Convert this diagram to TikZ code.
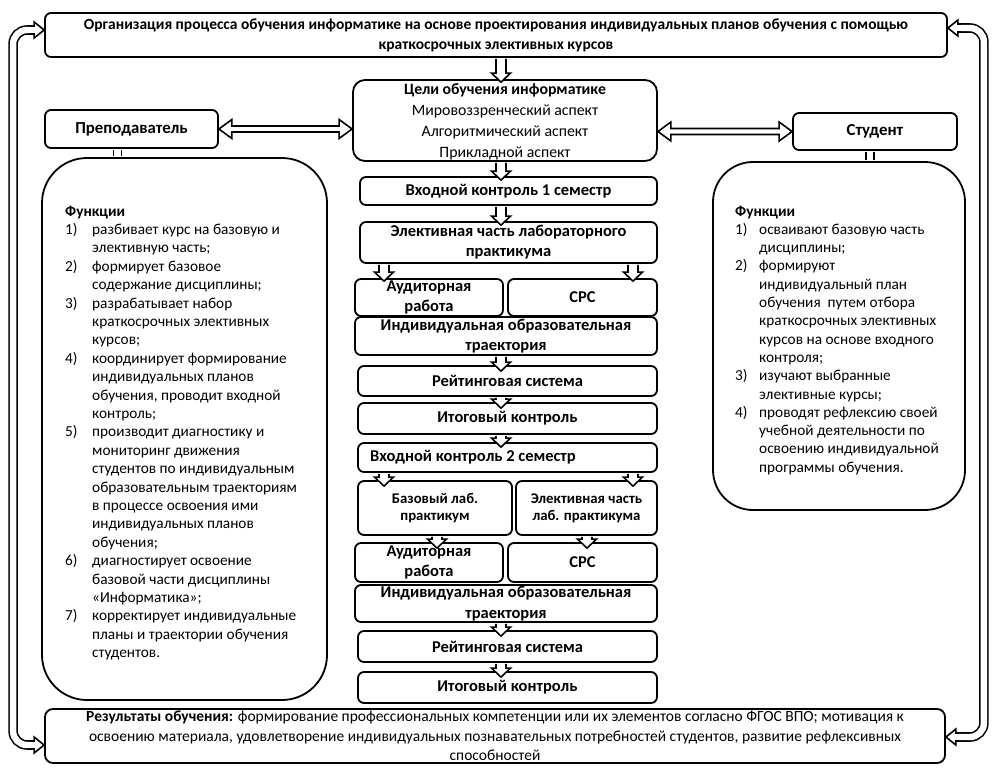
\documentclass[tikz,border=0pt]{standalone}
\usepackage{fontspec}
\setmainfont{Carlito}
\usetikzlibrary{calc}
\newcommand{\myfs}[2]{\fontsize{#1}{#2}\selectfont}
\newcommand{\myitem}[1]{\makebox[27pt][l]{#1}}
\newcommand{\myind}{\hspace*{27pt}}
\newcommand{\ritem}[1]{\makebox[24pt][l]{#1}}
\newcommand{\rind}{\hspace*{24pt}}
\newcommand{\aw}{5pt}
\newcommand{\ah}{10pt}
\newcommand{\al}{11pt}
\begin{document}
\begin{tikzpicture}[x=1pt,y=-1pt,
  box/.style={draw, line width=1.8pt, fill=white, rounded corners=6pt, inner sep=0pt, align=center},
  cbox/.style={box, font=\bfseries\myfs{16.5}{20}},
  dbl/.style={draw, line width=1.6pt, double=white, double distance=6.4pt},
  arrowbase/.style={draw, line width=1.6pt, fill=white, line join=miter},
  harrow/.style={arrowbase, /utils/exec={\def\aw{5pt}\def\ah{9.5pt}\def\al{9pt}},
    to path={let \p1=(\tikztostart), \p2=(\tikztotarget), \p3=($(\p2)!\al!(\p1)$) in
      ($(\p1)!\aw!90:(\p2)$) -- ($(\p3)!\aw!90:(\p2)$) -- ($(\p3)!\ah!90:(\p2)$) -- (\p2)
      -- ($(\p3)!\ah!-90:(\p2)$) -- ($(\p3)!\aw!-90:(\p2)$) -- ($(\p1)!\aw!-90:(\p2)$)}},
  harrowsm/.style={harrow, /utils/exec={\def\aw{4pt}\def\ah{8pt}\def\al{10pt}}},
  harrowtwo/.style={arrowbase, /utils/exec={\def\aw{3pt}\def\ah{9.5pt}\def\al{13pt}},
    to path={let \p1=(\tikztostart), \p2=(\tikztotarget), \p3=($(\p1)!\al!(\p2)$), \p4=($(\p2)!\al!(\p1)$) in
      (\p1) -- ($(\p3)!\ah!90:(\p2)$) -- ($(\p3)!\aw!90:(\p2)$) -- ($(\p4)!\aw!90:(\p2)$) -- ($(\p4)!\ah!90:(\p2)$)
      -- (\p2) -- ($(\p4)!\ah!-90:(\p2)$) -- ($(\p4)!\aw!-90:(\p2)$) -- ($(\p3)!\aw!-90:(\p2)$) -- ($(\p3)!\ah!-90:(\p2)$) -- cycle}}
]
\useasboundingbox[fill=white] (0,0) rectangle (1002,772);

\coordinate (cx) at (501,0);
\coordinate (cl) at (384,0);
\coordinate (cr) at (633,0);
\coordinate (cbl) at (437,0);
\coordinate (cer) at (587,0);

% top and bottom
\node[box, minimum width=902pt, minimum height=44pt, font=\bfseries\myfs{15.5}{20}] (top) at (496,35)
  {Организация процесса обучения информатике на основе проектирования индивидуальных планов обучения с помощью\\краткосрочных элективных курсов};
\node[box, rounded corners=8pt, minimum width=900pt, minimum height=54pt, font=\myfs{15.5}{19.5}] (bot) at (495,736)
  {\textbf{Результаты обучения:} формирование профессиональных компетенции или их элементов согласно ФГОС ВПО; мотивация к\\освоению материала, удовлетворение индивидуальных познавательных потребностей студентов, развитие рефлексивных\\способностей};

% goals
\node[box, rounded corners=12pt, minimum width=304pt, minimum height=81pt, font=\myfs{15.8}{21}] (goals) at (505,120.5)
  {\rule{0pt}{13pt}\textbf{Цели обучения информатике}\\Мировоззренческий аспект\\Алгоритмический аспект\\Прикладной аспект};

% roles
\node[box, font=\bfseries\myfs{16.8}{18}, minimum width=173pt, minimum height=38pt] (prep) at (131.5,129) {Преподаватель};
\node[box, font=\bfseries\myfs{16.8}{18}, minimum width=164pt, minimum height=37pt] (stud) at (875,131.5) {Студент};

\node[box, rounded corners=45pt, minimum width=285pt, minimum height=542pt] (lbox) at (184.5,429) {};
\node[box, rounded corners=40pt, minimum width=252pt, minimum height=348pt] (rbox) at (839,336) {};

\node[anchor=base west, inner sep=0pt, font=\myfs{15.3}{18.4}] (ltxt) at (65,216) {\parbox[t]{255pt}{%
\textbf{Функции}\\
\myitem{1)}разбивает курс на базовую и\\
\myind элективную часть;\\
\myitem{2)}формирует базовое\\
\myind содержание дисциплины;\\
\myitem{3)}разрабатывает набор\\
\myind краткосрочных элективных\\
\myind курсов;\\
\myitem{4)}координирует формирование\\
\myind индивидуальных планов\\
\myind обучения, проводит входной\\
\myind контроль;\\
\myitem{5)}производит диагностику и\\
\myind мониторинг движения\\
\myind студентов по индивидуальным\\
\myind образовательным траекториям\\
\myind в процессе освоения ими\\
\myind индивидуальных планов\\
\myind обучения;\\
\myitem{6)}диагностирует освоение\\
\myind базовой части дисциплины\\
\myind «Информатика»;\\
\myitem{7)}корректирует индивидуальные\\
\myind планы и траектории обучения\\
\myind студентов.}};

\node[anchor=base west, inner sep=0pt, font=\myfs{15.3}{18.3}] (rtxt) at (735,216) {\parbox[t]{225pt}{%
\textbf{Функции}\\
\ritem{1)}осваивают базовую часть\\
\rind дисциплины;\\
\ritem{2)}формируют\\
\rind индивидуальный план\\
\rind обучения \ путем отбора\\
\rind краткосрочных элективных\\
\rind курсов на основе входного\\
\rind контроля;\\
\ritem{3)}изучают выбранные\\
\rind элективные курсы;\\
\ritem{4)}проводят рефлексию своей\\
\rind учебной деятельности по\\
\rind освоению индивидуальной\\
\rind программы обучения.}};

% centre column
\node[cbox, minimum width=297pt, minimum height=28pt] (vk1) at (508.5,191) {Входной контроль 1 семестр};
\node[cbox, minimum width=297pt, minimum height=41pt] (el1) at (508.5,242.5) {Элективная часть лабораторного\\практикума};
\node[cbox, minimum width=148pt, minimum height=37pt] (au1) at (429,297.5) {Аудиторная\\работа};
\node[cbox, minimum width=149pt, minimum height=37pt] (srs1) at (582.5,297.5) {СРС};
\node[cbox, minimum width=302pt, minimum height=38pt] (it1) at (506,336) {Индивидуальная образовательная\\траектория};
\node[cbox, minimum width=299pt, minimum height=30pt] (rs1) at (507.5,381) {Рейтинговая система};
\node[cbox, minimum width=299pt, minimum height=31pt] (ik1) at (507.5,418.5) {Итоговый контроль};
\node[cbox, minimum width=299pt, minimum height=29pt] (vk2) at (507.5,457.5) {\makebox[299pt][l]{\hspace*{12pt}Входной контроль 2 семестр}};
\node[cbox, font=\bfseries\myfs{14.8}{17}, minimum width=154pt, minimum height=54pt] (bl) at (435,508) {Базовый лаб.\\практикум};
\node[cbox, font=\bfseries\myfs{14.8}{17}, minimum width=141pt, minimum height=54pt] (el2) at (586.5,508) {Элективная часть\\лаб. практикума};
\node[cbox, minimum width=148pt, minimum height=39pt] (au2) at (429,562.5) {Аудиторная\\работа};
\node[cbox, minimum width=149pt, minimum height=39pt] (srs2) at (582.5,562.5) {СРС};
\node[cbox, minimum width=302pt, minimum height=37pt, font=\bfseries\myfs{16.5}{21}] (it2) at (506,603.5) {Индивидуальная образовательная\\траектория};
\node[cbox, minimum width=299pt, minimum height=31pt] (rs2) at (507.5,646.5) {Рейтинговая система};
\node[cbox, minimum width=299pt, minimum height=31pt] (ik2) at (507.5,687.5) {Итоговый контроль};

% short double connectors
\draw[dbl] ([xshift=-14pt,yshift=-0.9pt]prep.south) -- ([xshift=-14pt,yshift=0.9pt]prep.south |- lbox.north);
\draw[dbl] ([xshift=-5pt,yshift=-0.9pt]stud.south) -- ([xshift=-5pt,yshift=0.9pt]stud.south |- rbox.north);

% two-way arrows
\draw[harrowtwo] (prep.east) to (goals.west |- prep.east);
\draw[harrowtwo] (goals.east |- stud.west) to (stud.west);

% centre arrows
\draw[harrow] ([yshift=-0.9pt]top.south -| cx) to ([yshift=-3pt]goals.north -| cx);
\draw[harrow] ([yshift=-0.9pt]goals.south -| cx) to ([yshift=-4pt]vk1.north -| cx);
\draw[harrow] ([yshift=-0.9pt]vk1.south -| cx) to ([yshift=-4pt]el1.north -| cx);
\draw[harrow] ([yshift=-0.9pt]el1.south -| cl) to ([yshift=-3pt]au1.north -| cl);
\draw[harrow] ([yshift=-0.9pt]el1.south -| cr) to ([yshift=-3pt]srs1.north -| cr);
\draw[harrow] ([yshift=-0.9pt]it1.south -| cx) to ([yshift=-6pt]rs1.north -| cx);
\draw[harrow] ([yshift=-0.9pt]rs1.south -| cx) to ([yshift=-6pt]ik1.north -| cx);
\draw[harrow] ([yshift=-0.9pt]ik1.south -| cx) to ([yshift=-5pt]vk2.north -| cx);
\draw[harrow] ([yshift=-0.9pt]vk2.south -| cl) to ([yshift=-6pt]bl.north -| cl);
\draw[harrow] ([yshift=-0.9pt]vk2.south -| cr) to ([yshift=-6pt]el2.north -| cr);
\draw[harrow] ([yshift=-0.9pt]bl.south -| cbl) to ([yshift=-6pt]au2.north -| cbl);
\draw[harrow] ([yshift=-0.9pt]el2.south -| cer) to ([yshift=-6pt]srs2.north -| cer);
\draw[harrow] ([yshift=-0.9pt]it2.south -| cx) to ([yshift=-6pt]rs2.north -| cx);
\draw[harrow] ([yshift=-0.9pt]rs2.south -| cx) to ([yshift=-6pt]ik2.north -| cx);

% outer loops
\draw[dbl, rounded corners=14pt] ([xshift=-11pt,yshift=5pt]top.west) -- ++(-20pt,0) |- ([xshift=-11pt,yshift=-9pt]bot.west);
\draw[harrowsm] ([xshift=-13pt,yshift=5pt]top.west) to ([yshift=5pt]top.west);
\draw[harrowsm] ([xshift=-13pt,yshift=-9pt]bot.west) to ([yshift=-9pt]bot.west);
\draw[dbl, rounded corners=14pt] ([xshift=11pt,yshift=7pt]top.east) -- ++(25pt,0) |- ([xshift=11pt,yshift=-1pt]bot.east);
\draw[harrowsm] ([xshift=13pt,yshift=7pt]top.east) to ([yshift=7pt]top.east);
\draw[harrowsm] ([xshift=13pt,yshift=-1pt]bot.east) to ([yshift=-1pt]bot.east);
\end{tikzpicture}
\end{document}
